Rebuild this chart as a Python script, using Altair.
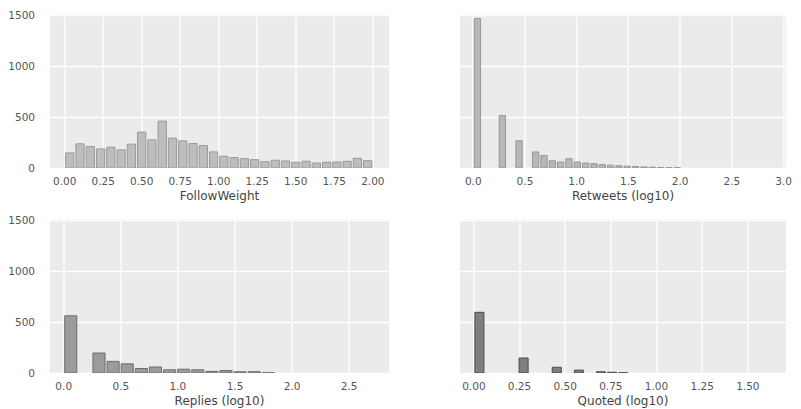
import altair as alt
import pandas as pd

# ---- data ----
fw_counts = [148, 237, 210, 187, 204, 178, 234, 352, 276, 460, 293, 266, 240, 220, 158,
             115, 102, 92, 82, 62, 76, 69, 56, 66, 49, 56, 59, 66, 95, 72]
fw_start, fw_width = 0.0, 2.0 / 30

rt_counts = [1467, 0, 0, 515, 0, 267, 0, 157, 123, 71, 59, 91, 59, 49, 42, 33, 28, 22,
             18, 15, 11, 8, 5, 4, 3]
rt_start, rt_width = 0.0, 0.0805

rp_counts = [561, 0, 196, 114, 90, 44, 59, 31, 37, 31, 16, 24, 12, 13, 3]
rp_start, rp_width = 0.0, 0.1236

qt_counts = [595, 0, 0, 0, 147, 0, 0, 56, 0, 28, 0, 12, 7, 3]
qt_start, qt_width = 0.0, 0.0605

fw_ticks = [0.0, 0.25, 0.5, 0.75, 1.0, 1.25, 1.5, 1.75, 2.0]
rt_ticks = [0.0, 0.5, 1.0, 1.5, 2.0, 2.5, 3.0]
rp_ticks = [0.0, 0.5, 1.0, 1.5, 2.0, 2.5]
qt_ticks = [0.0, 0.25, 0.5, 0.75, 1.0, 1.25, 1.5]
y_ticks = [0, 500, 1000, 1500]

PANEL_H = 154


def hist_df(counts, start, width):
    rows = []
    for i, c in enumerate(counts):
        if c > 0:
            rows.append({"start": start + i * width, "end": start + (i + 1) * width, "count": c})
    return pd.DataFrame(rows)


def panel(df, title, domain, ticks, fmt, fill, stroke, show_y, width):
    if show_y:
        yaxis = alt.Axis(values=y_ticks, format="d", title=None, labelPadding=15)
    else:
        yaxis = alt.Axis(values=y_ticks, title=None, labels=False)
    return alt.Chart(df).mark_bar(fill=fill, stroke=stroke, strokeWidth=1, clip=True).encode(
        x=alt.X("start:Q", bin="binned",
                scale=alt.Scale(domain=domain, nice=False, zero=False),
                axis=alt.Axis(values=ticks, format=fmt, title=title)),
        x2="end:Q",
        y=alt.Y("count:Q", scale=alt.Scale(domain=[0, 1510], nice=False), axis=yaxis),
    ).properties(width=width, height=PANEL_H)


tl = panel(hist_df(fw_counts, fw_start, fw_width), "FollowWeight", [-0.095, 2.105],
           fw_ticks, ".2f", "#bdbdbd", "#9a9a9a", True, 339)
tr = panel(hist_df(rt_counts, rt_start, rt_width), "Retweets (log10)", [-0.128, 3.024],
           rt_ticks, ".1f", "#b7b7b7", "#979797", False, 326)
bl = panel(hist_df(rp_counts, rp_start, rp_width), "Replies (log10)", [-0.12, 2.849],
           rp_ticks, ".1f", "#9b9b9b", "#6e6e6e", True, 339)
br = panel(hist_df(qt_counts, qt_start, qt_width), "Quoted (log10)", [-0.076, 1.709],
           qt_ticks, ".2f", "#7f7f7f", "#4d4d4d", False, 326)

chart = alt.vconcat(
    alt.hconcat(tl, tr, spacing=69),
    alt.hconcat(bl, br, spacing=69),
    spacing=12,
).properties(
    autosize=alt.AutoSizeParams(type="none"),
    padding={"left": 41.5, "top": 6, "right": 743.5, "bottom": 396},
).configure_view(
    fill="#ebebeb", stroke="transparent"
).configure_axis(
    grid=True, gridColor="#ffffff", gridWidth=1.3, domain=False, ticks=False, tickSize=0,
    labelFont="DejaVu Sans", labelFontSize=10.5, labelColor="#555555",
    titleFont="DejaVu Sans", titleFontSize=12, titleFontWeight="normal", titleColor="#444444",
    labelPadding=8, titlePadding=4,
).configure_bar(binSpacing=2)

chart.save("out.html", embed_options={"renderer": "svg", "actions": False})
